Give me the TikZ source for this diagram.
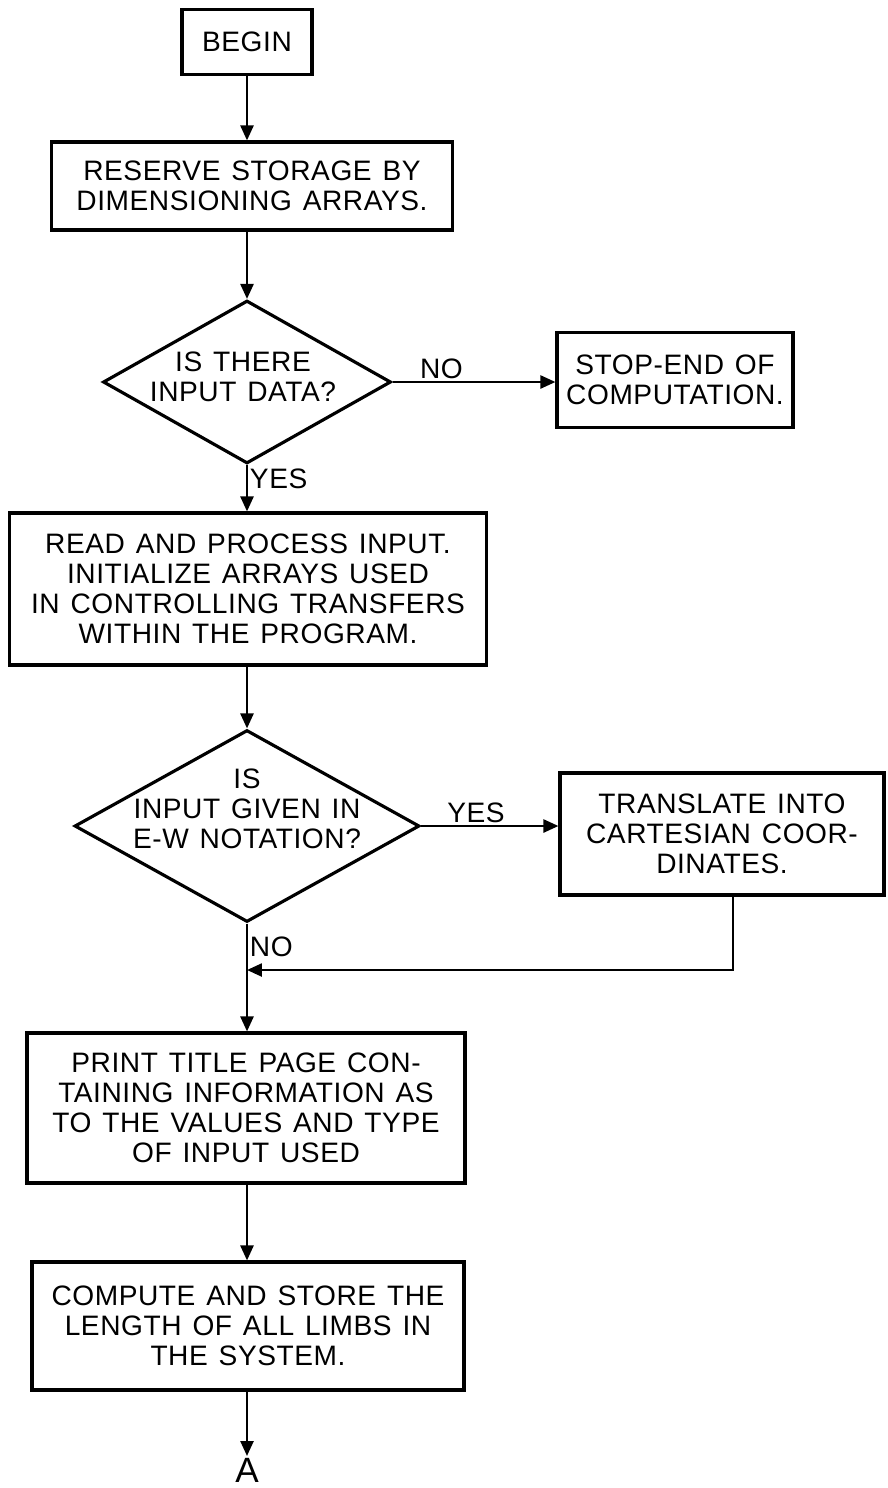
\documentclass[tikz,border=0pt]{standalone}
\usepackage{fontspec}
\setmainfont{Liberation Sans}[LetterSpace=2, WordSpace=1.3]
\usetikzlibrary{arrows.meta,shapes.geometric,positioning,calc}
\newcommand{\flowfont}{\fontsize{16}{17}\selectfont}

\begin{document}
\begin{tikzpicture}[x=0.02cm, y=-0.02cm,
    box/.style={draw, line width=1.8pt, inner sep=0pt, align=center, font=\flowfont},
    dec/.style={draw, diamond, line width=1.8pt, inner sep=0pt},
    dtxt/.style={align=center, font=\flowfont, inner sep=0pt},
    arr/.style={-{Triangle[length=0.3cm, width=0.26cm]}, line width=1.4pt},
    lbl/.style={font=\flowfont, inner sep=1pt}
]
\useasboundingbox (0,0) rectangle (887,1488);

\node[box, minimum width=2.6cm, minimum height=1.3cm] (begin) at (247,42) {BEGIN};
\node[box, minimum width=8.02cm, minimum height=1.76cm] (reserve) at (252,186) {RESERVE STORAGE BY\\DIMENSIONING ARRAYS.};
\node[dec, minimum width=5.76cm, minimum height=3.26cm] (q1) at (247,382) {};
\node[dtxt] (q1txt) at (243,377) {IS THERE\\INPUT DATA?};
\node[box, minimum width=4.72cm, minimum height=1.9cm] (stop) at (675,380) {STOP-END OF\\COMPUTATION.};
\node[box, minimum width=9.54cm, minimum height=3.04cm] (read) at (248,589) {READ AND PROCESS INPUT.\\INITIALIZE ARRAYS USED\\IN CONTROLLING TRANSFERS\\WITHIN THE PROGRAM.};
\node[dec, minimum width=6.9cm, minimum height=3.84cm] (q2) at (247,826) {};
\node[dtxt] (q2txt) at (247,809) {IS\\INPUT GIVEN IN\\E-W NOTATION?};
\node[box, minimum width=6.48cm, minimum height=2.44cm] (trans) at (722,834) {TRANSLATE INTO\\CARTESIAN COOR-\\DINATES.};
\node[box, minimum width=8.76cm, minimum height=3cm] (print) at (246,1108) {PRINT TITLE PAGE CON-\\TAINING INFORMATION AS\\TO THE VALUES AND TYPE\\OF INPUT USED};
\node[box, minimum width=8.64cm, minimum height=2.56cm] (comp) at (248,1326) {COMPUTE AND STORE THE\\LENGTH OF ALL LIMBS IN\\THE SYSTEM.};
\node[font=\fontsize{20}{20}\selectfont, inner sep=1pt, anchor=north] (conA) at (247,1456) {A};
\coordinate (join) at (247,970);

\draw[arr] (begin.south) -- (begin.south |- reserve.north);
\draw[arr] (q1.north |- reserve.south) -- (q1.north);
\draw[arr] (q1.east) -- node[lbl, above, pos=0.3] {NO} (q1.east -| stop.west);
\draw[arr] (q1.south) -- node[lbl, right, pos=0.3] {YES} (q1.south |- read.north);
\draw[arr] (q2.north |- read.south) -- (q2.north);
\draw[arr] (q2.east) -- node[lbl, above, pos=0.4] {YES} (q2.east -| trans.west);
\draw[arr] ([xshift=0.22cm]trans.south) |- (join);
\draw[arr] (q2.south) -- node[lbl, right, pos=0.22] {NO} (q2.south |- print.north);
\draw[arr] (q2.south |- print.south) -- (q2.south |- comp.north);
\draw[arr] (comp.south -| conA.north) -- (conA.north);
\end{tikzpicture}
\end{document}
